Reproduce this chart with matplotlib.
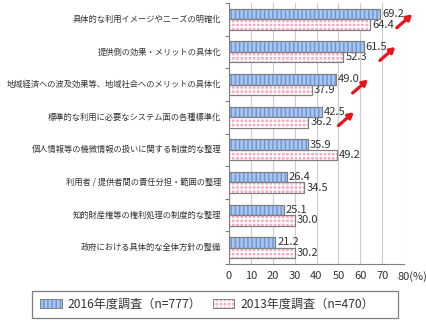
import matplotlib
matplotlib.use("Agg")
import matplotlib.pyplot as plt
from matplotlib.patches import Patch, Rectangle
from matplotlib.legend_handler import HandlerTuple
import matplotlib.transforms as mtransforms
import numpy as np

plt.rcParams['font.family'] = ['Noto Sans CJK JP', 'DejaVu Sans']
plt.rcParams['hatch.linewidth'] = 1.1

categories = [
    "具体的な利用イメージやニーズの明確化",
    "提供側の効果・メリットの具体化",
    "地域経済への波及効果等、地域社会へのメリットの具体化",
    "標準的な利用に必要なシステム面の各種標準化",
    "個人情報等の機微情報の扱いに関する制度的な整理",
    "利用者 / 提供者間の責任分担・範囲の整理",
    "知的財産権等の権利処理の制度的な整理",
    "政府における具体的な全体方針の整備",
]
survey_2016 = [69.2, 61.5, 49.0, 42.5, 35.9, 26.4, 25.1, 21.2]
survey_2013 = [64.4, 52.3, 37.9, 36.2, 49.2, 34.5, 30.0, 30.2]
series_labels = ["2016年度調査（n=777）", "2013年度調査（n=470）"]
rising_items = [0, 1, 2, 3]
xticks = [0, 10, 20, 30, 40, 50, 60, 70, 80]
xtick_labels = ["0", "10", "20", "30", "40", "50", "60", "70", "80(%)"]

blue_face, blue_hatch = "#a9c6ef", "#7096d4"
pink_face, pink_hatch = "#f4adc1", "#ffffff"
edge = "#7f7f7f"
text_col = "#333333"
blue_pat, pink_pat = "||||", "++++"

fig = plt.figure(figsize=(4.27, 3.22), dpi=100)
ax = fig.add_axes([229 / 427, 1 - 264 / 322, 175 / 427, 261 / 322])

y = np.arange(len(categories))
h = 0.32
off = 0.16

# face layers
b1 = ax.barh(y - off, survey_2016, height=h, color=blue_face, edgecolor=edge, linewidth=0.8, zorder=2)
b2 = ax.barh(y + off, survey_2013, height=h, color=pink_face, edgecolor=edge, linewidth=0.8, zorder=2)
# hatch layers
ax.barh(y - off, survey_2016, height=h, fill=False, hatch=blue_pat, edgecolor=blue_hatch, linewidth=0, zorder=3)
ax.barh(y + off, survey_2013, height=h, fill=False, hatch=pink_pat, edgecolor=pink_hatch, linewidth=0, zorder=3)
# outlines on top
ax.barh(y - off, survey_2016, height=h, fill=False, edgecolor=edge, linewidth=0.8, zorder=4)
ax.barh(y + off, survey_2013, height=h, fill=False, edgecolor=edge, linewidth=0.8, zorder=4)

ax.bar_label(b1, labels=[f"{v:.1f}" for v in survey_2016], padding=1.5, fontsize=8, color=text_col)
ax.bar_label(b2, labels=[f"{v:.1f}" for v in survey_2013], padding=1.5, fontsize=8, color=text_col)

# red arrows for items whose share increased
for i in rising_items:
    x0 = survey_2016[i] + 7.5
    ax.annotate("", xy=(x0 + 7, i - 0.15), xytext=(x0, i + 0.26),
                arrowprops=dict(arrowstyle="-|>,head_length=0.3,head_width=0.18",
                                color="#e8141c", lw=2.3, shrinkA=0, shrinkB=0),
                annotation_clip=False, zorder=6)

ax.set_xlim(0, 80)
ax.set_ylim(len(categories) - 0.5, -0.5)
ax.set_xticks(xticks)
ax.set_xticklabels(xtick_labels, fontsize=8, color=text_col)
ax.tick_params(axis="x", length=0, pad=5)
last = ax.get_xticklabels()[-1]
last.set_ha("left")
last.set_transform(last.get_transform() + mtransforms.ScaledTranslation(-6 / 100, 0, fig.dpi_scale_trans))

ax.set_yticks(np.arange(len(categories) + 1) - 0.5)
ax.set_yticklabels([])
ax.tick_params(axis="y", direction="out", length=3, color=edge, width=0.8)
for i, c in enumerate(categories):
    ax.text(-0.045, i, c, transform=ax.get_yaxis_transform(), ha="right", va="center",
            fontsize=5.95, color=text_col)

ax.grid(axis="x", color="#cccccc", linewidth=0.8, zorder=0)
ax.set_axisbelow(True)
for s in ["top", "right"]:
    ax.spines[s].set_visible(False)
for s in ["left", "bottom"]:
    ax.spines[s].set_color(edge)
    ax.spines[s].set_linewidth(0.8)

# legend box
fig.patches.append(Rectangle((32 / 427, 1 - 318 / 322), 366 / 427, 27 / 322,
                             transform=fig.transFigure, fill=False, edgecolor=edge, linewidth=0.9))

h1 = (Patch(facecolor=blue_face, edgecolor=edge, linewidth=0.6),
      Patch(fill=False, hatch=blue_pat, edgecolor=blue_hatch, linewidth=0),
      Patch(fill=False, edgecolor=edge, linewidth=0.6))
h2 = (Patch(facecolor=pink_face, edgecolor=edge, linewidth=0.6),
      Patch(fill=False, hatch=pink_pat, edgecolor=pink_hatch, linewidth=0),
      Patch(fill=False, edgecolor=edge, linewidth=0.6))
leg = fig.legend([h1, h2], series_labels, handler_map={tuple: HandlerTuple(ndivide=1, pad=0)},
                 loc="center left", bbox_to_anchor=(40 / 427, 1 - 304.5 / 322), ncol=2,
                 fontsize=8.7, frameon=False,
                 handlelength=1.8, handleheight=0.75, handletextpad=0.5, columnspacing=0.9,
                 borderpad=0, borderaxespad=0)
for t in leg.get_texts():
    t.set_color(text_col)

fig.savefig("out.png", dpi=100)
